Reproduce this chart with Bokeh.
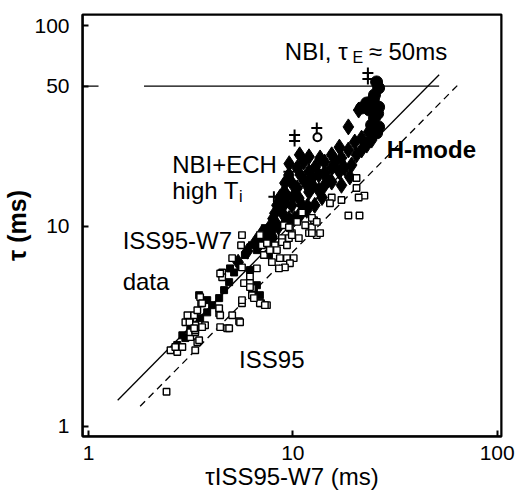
from bokeh.plotting import figure
from bokeh.models import Range1d, FixedTicker, PrintfTickFormatter, BoxAnnotation
from bokeh.core.properties import value
from bokeh.embed import file_html
from bokeh.resources import INLINE

# ---------------- data ----------------
x_ticks = [1, 10, 100]
y_ticks = [1, 10, 50, 100]

# ISS95-W7 data (open squares)
open_sq_x = [2.41, 2.52, 2.72, 2.66, 2.88, 3.33, 3.41, 3.15, 3.15, 3.33, 2.98, 3.15, 3.33, 3.72, 3.05,
             3.29, 3.41, 3.56, 4.36, 4.41, 4.77, 5.05, 5.46, 5.64, 6.90, 7.47, 5.64, 5.58, 5.05, 5.64,
             4.51, 4.51, 6.17, 5.77, 6.17, 6.31, 6.31, 5.64, 6.45, 7.30, 8.64, 9.36, 10.1, 9.68, 9.15,
             8.55, 6.90, 7.06, 8.17, 8.85, 9.57, 9.89, 10.7, 12.0, 13.1, 12.4, 12.7, 9.05, 9.68, 3.52,
             3.60, 4.36, 4.41, 5.52, 3.12, 3.33, 3.48, 20.5, 20.5, 22.4, 21.0, 15.5, 17.3, 15.2, 18.7,
             21.2, 12.4, 13.1, 12.4, 13.6, 9.57, 9.89, 8.85, 7.47, 4.41, 6.17, 3.60, 3.29, 4.88, 7.22,
             7.90, 6.67, 8.36, 7.72, 11.1, 10.5, 11.5, 9.36]
open_sq_y = [1.49, 2.40, 2.35, 2.49, 2.49, 2.40, 2.63, 2.79, 2.95, 2.95, 3.31, 3.28, 3.20, 3.20, 3.59,
             3.59, 3.80, 4.12, 3.67, 3.13, 3.09, 3.59, 3.35, 4.12, 4.12, 4.03, 9.02, 8.03, 6.92, 6.22,
             5.87, 5.56, 5.60, 5.19, 5.19, 4.90, 4.52, 4.27, 4.37, 4.03, 6.92, 6.92, 6.92, 6.52, 6.22,
             6.15, 9.02, 8.03, 8.03, 8.71, 8.71, 9.23, 8.71, 9.23, 9.02, 9.88, 10.7, 10.1, 9.77, 4.42,
             4.12, 3.89, 3.59, 3.31, 3.31, 3.02, 2.69, 17.4, 15.5, 14.2, 13.9, 13.9, 13.5, 13.0, 11.3,
             11.3, 11.0, 10.5, 9.23, 9.23, 9.88, 9.02, 8.32, 8.22, 5.80, 4.96, 3.13, 3.09, 3.09, 7.17,
             6.61, 6.15, 7.59, 7.59, 11.7, 10.5, 10.1, 8.03]

# filled squares
filled_sq_x = [2.88, 2.98, 3.15, 3.52, 3.81, 4.03, 4.36, 4.61, 4.88, 5.16, 4.93, 5.83, 6.31, 7.06,
               7.30, 8.08, 6.67, 6.90, 6.45, 6.98, 6.17, 6.67, 7.64, 3.48, 3.81, 2.72]
filled_sq_y = [2.85, 2.76, 3.02, 3.47, 3.71, 4.03, 4.37, 4.79, 5.25, 5.87, 6.15, 7.17, 8.03, 8.71,
               9.77, 10.5, 5.07, 4.52, 4.68, 4.12, 6.03, 7.59, 7.17, 4.52, 4.27, 2.55]

# NBI+ECH high Ti (filled diamonds)
diamond_x = [18.7, 21.0, 16.9, 15.5, 13.6, 14.3, 17.3, 18.7, 20.1, 21.7, 23.5, 25.1, 10.8, 12.0,
             11.3, 10.5, 12.0, 12.4, 13.4, 14.3, 15.5, 16.9, 17.9, 19.4, 9.57, 9.15, 9.05, 8.64,
             9.36, 8.36, 9.15, 8.17, 8.85, 9.89, 10.7, 11.1, 12.0, 13.4, 14.3, 15.5, 17.3, 7.64,
             7.06, 8.17, 9.57, 10.7, 11.7, 12.8, 13.9, 7.30, 7.90, 6.83, 6.0, 6.6, 7.5, 8.5, 9.3,
             10.2, 5.4, 7.9, 10.9, 11.8, 21.7, 24.3, 20.5, 23.0, 9.9, 10.5, 11.5, 12.5, 10.0, 9.6,
             10.9, 12.9, 14.8, 16.2, 19.0, 8.9, 8.0]
diamond_y = [31.3, 38.0, 24.8, 22.7, 21.9, 20.9, 21.9, 24.0, 26.3, 27.5, 29.5, 30.9, 22.7, 22.2,
             20.9, 19.5, 18.7, 17.4, 18.0, 18.4, 19.5, 18.7, 19.5, 20.2, 18.0, 16.4, 14.8, 13.9,
             14.2, 12.7, 13.0, 11.6, 11.7, 12.7, 13.8, 12.7, 14.8, 15.1, 16.0, 16.6, 16.0, 9.77,
             9.23, 10.1, 10.9, 11.3, 12.0, 12.7, 13.9, 8.51, 8.71, 8.03, 7.5, 8.4, 9.3, 9.9, 10.6,
             10.9, 6.6, 8.9, 11.4, 12.6, 24.0, 26.9, 22.7, 25.4, 16.4, 15.5, 16.5, 16.0, 14.0, 20.5,
             18.0, 19.8, 17.2, 21.0, 17.6, 12.6, 10.9]

# NBI, tau_E ~ 50 ms (filled circles)
circle_x = [25.7, 26.3, 25.1, 23.0, 21.7, 23.7, 26.3, 25.1, 26.3, 25.7, 24.3, 24.8, 26.0]
circle_y = [52.5, 49.0, 45.2, 41.2, 38.9, 38.0, 39.3, 34.7, 31.3, 29.2, 32.0, 43.0, 36.5]

# plus symbols and a small ring
plus_x = [23.3, 23.3, 10.2, 10.2, 13.1, 9.57, 8.08]
plus_y = [58.2, 54.3, 28.5, 26.6, 30.9, 18.7, 14.0]
ring_x = [13.2]
ring_y = [27.8]

# reference lines
solid_x = [1.39, 52.0]
solid_y = [1.35, 57.0]
dashed_x = [1.79, 64.6]
dashed_y = [1.26, 51.0]
h50_x = [1.87, 52.0]
h50_y = [50, 50]
h50_stub_x = [0.94, 1.12]
h50_stub_y = [50, 50]

# annotation texts and their anchor positions (data units)
big_text = ["NBI, τ", "≈ 50ms", "NBI+ECH", "high T", "ISS95-W7", "data", "ISS95"]
big_text_x = [9.14, 23.5, 2.57, 2.57, 1.47, 1.47, 5.46]
big_text_y = [74.1, 74.1, 20.2, 15.1, 8.51, 5.31, 2.16]
sub_text = ["E", "i"]
sub_text_x = [19.6, 5.46]
sub_text_y = [69.2, 14.1]
bold_text = ["H-mode"]
bold_text_x = [28.8]
bold_text_y = [24.0]

FONT = "Liberation Sans"

p = figure(width=516, height=497, x_axis_type="log", y_axis_type="log",
           x_range=Range1d(0.935, 105), y_range=Range1d(0.89, 114),
           output_backend="svg", toolbar_location=None,
           min_border_left=80, min_border_right=15, min_border_top=14, min_border_bottom=61)
p.grid.visible = False
p.outline_line_color = "black"
p.outline_line_width = 2
p.outline_line_alpha = 1.0
p.background_fill_color = "white"
p.border_fill_color = "white"

for ax in (p.xaxis[0], p.yaxis[0]):
    ax.axis_line_width = 2
    ax.axis_line_color = "black"
    ax.axis_line_alpha = 1.0
    ax.major_tick_in = 6
    ax.major_tick_out = 0
    ax.major_tick_line_width = 2
    ax.major_tick_line_color = "black"
    ax.minor_tick_line_color = None
    ax.major_label_text_font = FONT
    ax.major_label_text_color = "black"
    ax.major_label_text_font_size = "21px"
    ax.axis_label_text_font = FONT
    ax.axis_label_text_color = "black"
    ax.axis_label_text_font_style = "normal"

p.xaxis[0].ticker = FixedTicker(ticks=x_ticks)
p.yaxis[0].ticker = FixedTicker(ticks=y_ticks)
p.xaxis[0].formatter = PrintfTickFormatter(format="%d")
p.yaxis[0].formatter = PrintfTickFormatter(format="%d")
p.yaxis[0].major_label_standoff = 13
p.xaxis[0].major_label_standoff = 9

p.yaxis[0].axis_label = "τ (ms)"
p.yaxis[0].axis_label_text_font_size = "25px"
p.yaxis[0].axis_label_text_font_style = "bold"
p.yaxis[0].axis_label_standoff = 0

p.xaxis[0].axis_label = "τISS95-W7 (ms)"
p.xaxis[0].axis_label_text_font_size = "24px"
p.xaxis[0].axis_label_standoff = 0

# frame box drawn as an annotation as well
p.add_layout(BoxAnnotation(fill_color=None, fill_alpha=0, line_color="black", line_width=2,
                           line_alpha=1.0))

# lines
p.line(h50_x, h50_y, line_color="black", line_width=1.3)
p.line(h50_stub_x, h50_stub_y, line_color="black", line_width=1.3)
p.line(solid_x, solid_y, line_color="black", line_width=1.3)
p.line(dashed_x, dashed_y, line_color="black", line_width=1.3, line_dash="7 5")

# markers
p.scatter(diamond_x, diamond_y, marker="diamond", size=16, fill_color="black", line_color="black")
p.scatter(filled_sq_x, filled_sq_y, marker="square", size=7, fill_color="black", line_color="black")
p.scatter(circle_x, circle_y, marker="circle", size=12, fill_color="black", line_color="black")
p.scatter(open_sq_x, open_sq_y, marker="square", size=6.5, fill_color="white", line_color="black",
          line_width=1.4)
p.scatter(plus_x, plus_y, marker="cross", size=11, line_color="black", line_width=2)
p.scatter(ring_x, ring_y, marker="circle", size=8, fill_color="white", line_color="black", line_width=2)

# texts
p.text(big_text_x, big_text_y, text=big_text, text_font=value(FONT), text_font_size=value("24px"),
       text_color="black", text_align="left", text_baseline="middle")
p.text(sub_text_x, sub_text_y, text=sub_text, text_font=value(FONT), text_font_size=value("16px"),
       text_color="black", text_align="left", text_baseline="middle")
p.text(bold_text_x, bold_text_y, text=bold_text, text_font=value(FONT), text_font_size=value("24px"),
       text_font_style="bold", text_color="black", text_align="left", text_baseline="middle")

open("out.html", "w").write(file_html(p, INLINE))
